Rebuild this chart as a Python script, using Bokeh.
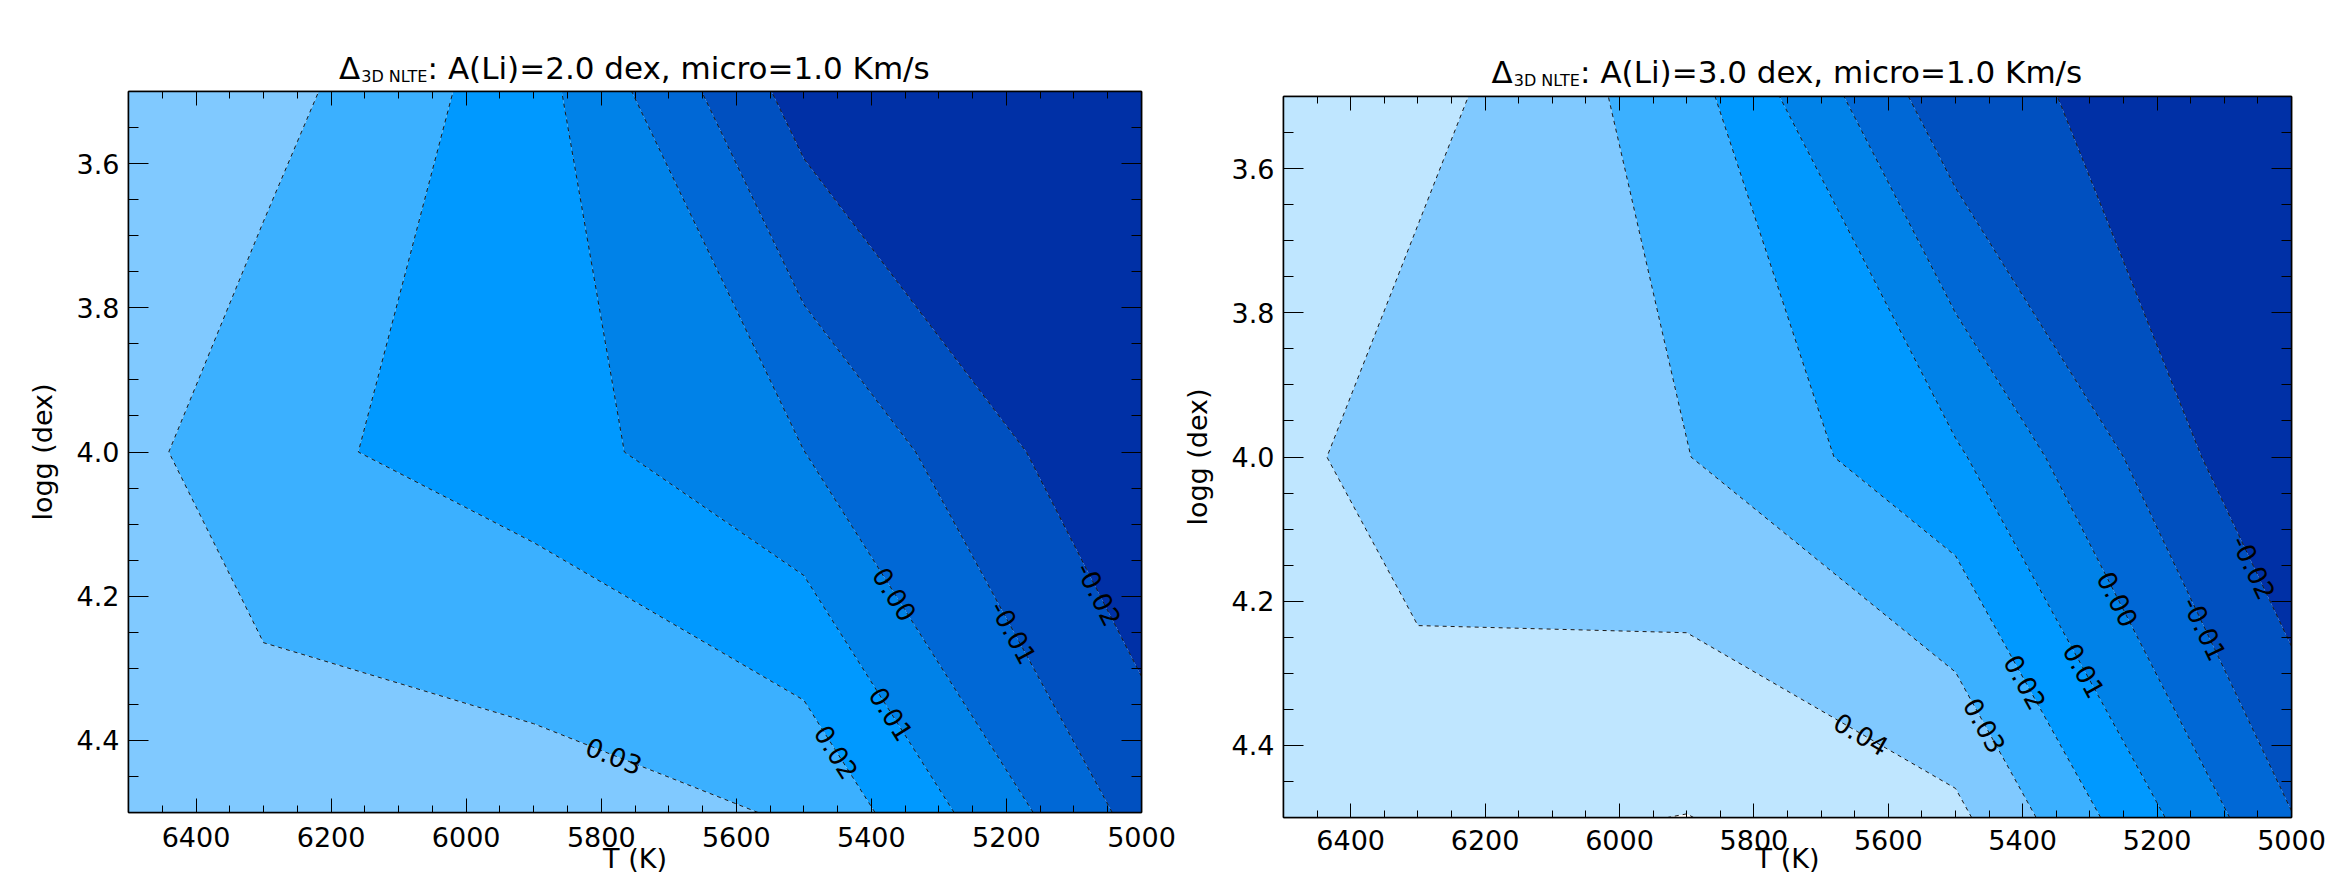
import numpy as np
from contourpy import contour_generator
from bokeh.plotting import figure
from bokeh.models import Range1d, FixedTicker, LinearAxis, PrintfTickFormatter
from bokeh.layouts import row, column
from bokeh.core.properties import value
from bokeh.embed import file_html
from bokeh.resources import INLINE

# ------------------------------------------------------------------ data
teff_grid = [5000, 5500, 5900, 6300, 6500]          # K
logg_grid = [3.5, 4.0, 4.5]                          # dex
# Delta_3D NLTE corrections, rows = logg_grid, columns = teff_grid
delta_li20 = [
    [-0.0350, -0.0246, 0.0140, 0.0341, 0.0360],
    [-0.0304, 0.0001, 0.0150, 0.0227, 0.0331],
    [-0.0137, 0.0290, 0.0349, 0.0365, 0.0370],
]
delta_li30 = [
    [-0.0262, -0.0173, 0.0244, 0.0436, 0.0460],
    [-0.0315, 0.0115, 0.0303, 0.0335, 0.0431],
    [-0.0096, 0.0425, 0.0502, 0.0474, 0.0460],
]
contour_levels = [-0.10, -0.02, -0.01, 0.00, 0.01, 0.02, 0.03, 0.04, 0.05, 0.10]
labelled_levels_li20 = [0.03, 0.02, 0.01, 0.00, -0.01, -0.02]
labelled_levels_li30 = [0.04, 0.03, 0.02, 0.01, 0.00, -0.01, -0.02]
abundances = ["2.0", "3.0"]
x_major_ticks = [6400, 6200, 6000, 5800, 5600, 5400, 5200, 5000]
y_major_ticks = [3.6, 3.8, 4.0, 4.2, 4.4]

# ------------------------------------------------------------------ style / layout
band_colors = ["#0030a6", "#0050c0", "#0068d6", "#0082e8", "#0099ff",
               "#3bb0ff", "#80c9ff", "#bfe6ff", "#ffffff"]
label_logg_li20 = [4.421, 4.416, 4.363, 4.197, 4.250, 4.197]
label_logg_li30 = [4.384, 4.372, 4.312, 4.296, 4.197, 4.238, 4.153]
FONT = "DejaVu Sans"
T_LEFT, T_RIGHT = 6500, 5000
G_TOP, G_BOTTOM = 3.5, 4.5
x_minor = list(range(5000, 6501, 50))
y_minor = [round(3.5 + 0.05 * i, 2) for i in range(21)]
TOTAL_H = 882
FRAME_H = 721

EM = {' ': .318, '(': .390, ')': .390, ',': .318, '.': .318, '/': .337, ':': .337,
      '=': .838, 'A': .684, 'D': .770, 'E': .632, 'K': .656, 'L': .557, 'N': .748,
      'T': .611, 'c': .550, 'd': .635, 'e': .615, 'i': .278, 'm': .974, 'o': .612,
      'r': .411, 's': .521, 'x': .592, 'Δ': .684}


def text_w(s, size):
    return sum(EM.get(ch, 0.636) for ch in s) * size


def style_axis(ax, major_in, minor_in, labels=True):
    ax.major_tick_in = major_in
    ax.major_tick_out = 0
    ax.minor_tick_in = minor_in
    ax.minor_tick_out = 0
    ax.axis_line_color = "black"
    ax.axis_line_width = 1.5
    ax.major_tick_line_color = "black"
    ax.minor_tick_line_color = "black"
    ax.major_tick_line_width = 1
    ax.minor_tick_line_width = 1
    ax.major_label_text_font = FONT
    ax.major_label_text_font_size = "27px" if labels else "0px"
    ax.major_label_text_color = "black"
    ax.axis_label_text_font = FONT
    ax.axis_label_text_font_size = "27px"
    ax.axis_label_text_font_style = "normal"
    ax.axis_label_text_color = "black"


def contour_label_positions(z, levels, loggs, fw, fh):
    gen = contour_generator(np.array(teff_grid, float), np.array(logg_grid, float),
                            np.array(z, float))
    xs, ys, angs, txt = [], [], [], []
    for lev, g0 in zip(levels, loggs):
        done = False
        for line in gen.lines(lev):
            T, G = line[:, 0], line[:, 1]
            for i in range(len(T) - 1):
                if G[i] == G[i + 1] or (G[i] - g0) * (G[i + 1] - g0) > 0:
                    continue
                t = (g0 - G[i]) / (G[i + 1] - G[i])
                tx = T[i] + t * (T[i + 1] - T[i])
                dsx = -(T[i + 1] - T[i]) / (T_LEFT - T_RIGHT) * fw
                dsy = -(G[i + 1] - G[i]) / (G_BOTTOM - G_TOP) * fh
                a = np.arctan2(dsy, dsx)
                if a > np.pi / 2:
                    a -= np.pi
                elif a <= -np.pi / 2:
                    a += np.pi
                xs.append(tx)
                ys.append(g0)
                angs.append(a)
                txt.append(f"{lev:.2f}")
                done = True
                break
            if done:
                break
    return xs, ys, angs, txt


def make_panel(z, lab_levels, lab_loggs, ali, width, b_left, fw, frame_top,
               x_std, xlab_std, title_gap, strip_h):
    b_right = width - b_left - fw
    b_top = frame_top - strip_h
    b_bottom = TOTAL_H - frame_top - FRAME_H
    main_h = TOTAL_H - strip_h

    # ---- title strip: same horizontal frame as the plot below it
    t = figure(width=width, height=strip_h, x_range=Range1d(T_LEFT, T_RIGHT),
               y_range=Range1d(0, strip_h), x_axis_type=None, y_axis_type=None,
               output_backend="svg", toolbar_location=None, min_border_left=b_left,
               min_border_right=b_right, min_border_top=0, min_border_bottom=0)
    t.outline_line_color = None
    t.xgrid.visible = False
    t.ygrid.visible = False
    t.background_fill_color = "white"
    t.border_fill_color = "white"
    main = f": A(Li)={ali} dex, micro=1.0 Km/s"
    fs, fsub = 31, 16
    wd, ws, wm = text_w("Δ", fs), text_w("3D NLTE", fsub), text_w(main, fs)
    total = wd + 1 + ws - 2 + wm
    xc = (T_LEFT + T_RIGHT) / 2
    baseline = frame_top - title_gap                # page y of the text baseline
    y_main = strip_h - (baseline - 0.30 * fs)        # middle of the main text
    y_sub = strip_h - (baseline + 4 - 0.30 * fsub)   # subscript sits lower
    tcommon = dict(text_font=value(FONT), text_color="black",
                   text_baseline="middle", text_align="left")
    t.text(x=[xc], y=[y_main], x_offset=-total / 2, text=["Δ"],
           text_font_size=f"{fs}px", **tcommon)
    t.text(x=[xc], y=[y_sub], x_offset=-total / 2 + wd + 1, text=["3D NLTE"],
           text_font_size=f"{fsub}px", **tcommon)
    t.text(x=[xc], y=[y_main], x_offset=-total / 2 + wd + ws - 1, text=[main],
           text_font_size=f"{fs}px", **tcommon)

    # ---- main contour plot
    p = figure(width=width, height=main_h, x_range=Range1d(T_LEFT, T_RIGHT),
               y_range=Range1d(G_BOTTOM, G_TOP), output_backend="svg",
               toolbar_location=None, min_border_left=b_left, min_border_right=b_right,
               min_border_top=b_top, min_border_bottom=b_bottom)
    p.xgrid.visible = False
    p.ygrid.visible = False
    p.background_fill_color = "white"
    p.border_fill_color = "white"
    p.outline_line_color = "black"
    p.outline_line_width = 1.5

    p.contour(np.array(teff_grid, float), np.array(logg_grid, float), np.array(z, float),
              contour_levels, fill_color=band_colors, fill_alpha=1.0,
              line_color="#1a1a1a", line_width=1, line_dash="4 4")

    xs, ys, angs, txt = contour_label_positions(z, lab_levels, lab_loggs, fw, FRAME_H)
    p.text(x=xs, y=ys, text=txt, angle=angs, text_align="center", text_baseline="middle",
           text_font=value(FONT), text_font_size="26px", text_color="black")

    xb = p.below[0]
    xb.ticker = FixedTicker(ticks=x_major_ticks, minor_ticks=x_minor)
    xb.formatter = PrintfTickFormatter(format="%d")
    style_axis(xb, 14, 7)
    xb.major_label_standoff = x_std
    xb.axis_label = "T (K)"
    xb.axis_label_standoff = xlab_std

    yl = p.left[0]
    yl.ticker = FixedTicker(ticks=y_major_ticks, minor_ticks=y_minor)
    yl.formatter = PrintfTickFormatter(format="%.1f")
    style_axis(yl, 20, 10)
    yl.major_label_standoff = 9
    yl.axis_label = "logg (dex)"
    yl.axis_label_standoff = 16

    top = LinearAxis(ticker=FixedTicker(ticks=x_major_ticks, minor_ticks=x_minor),
                     formatter=PrintfTickFormatter(format=""))
    style_axis(top, 14, 7, labels=False)
    top.major_label_standoff = 0
    p.add_layout(top, "above")
    right = LinearAxis(ticker=FixedTicker(ticks=y_major_ticks, minor_ticks=y_minor),
                       formatter=PrintfTickFormatter(format=""))
    style_axis(right, 20, 10, labels=False)
    right.major_label_standoff = 0
    p.add_layout(right, "right")

    return column(t, p, spacing=0)


panel1 = make_panel(delta_li20, labelled_levels_li20, label_logg_li20, abundances[0],
                    width=1178, b_left=128, fw=1013, frame_top=91,
                    x_std=14, xlab_std=-7, title_gap=14, strip_h=86)
panel2 = make_panel(delta_li30, labelled_levels_li30, label_logg_li30, abundances[1],
                    width=1148, b_left=101, fw=1012, frame_top=96,
                    x_std=12, xlab_std=-10, title_gap=15, strip_h=90)

layout = row(panel1, panel2, spacing=0)
open("out.html", "w").write(file_html(layout, INLINE))
